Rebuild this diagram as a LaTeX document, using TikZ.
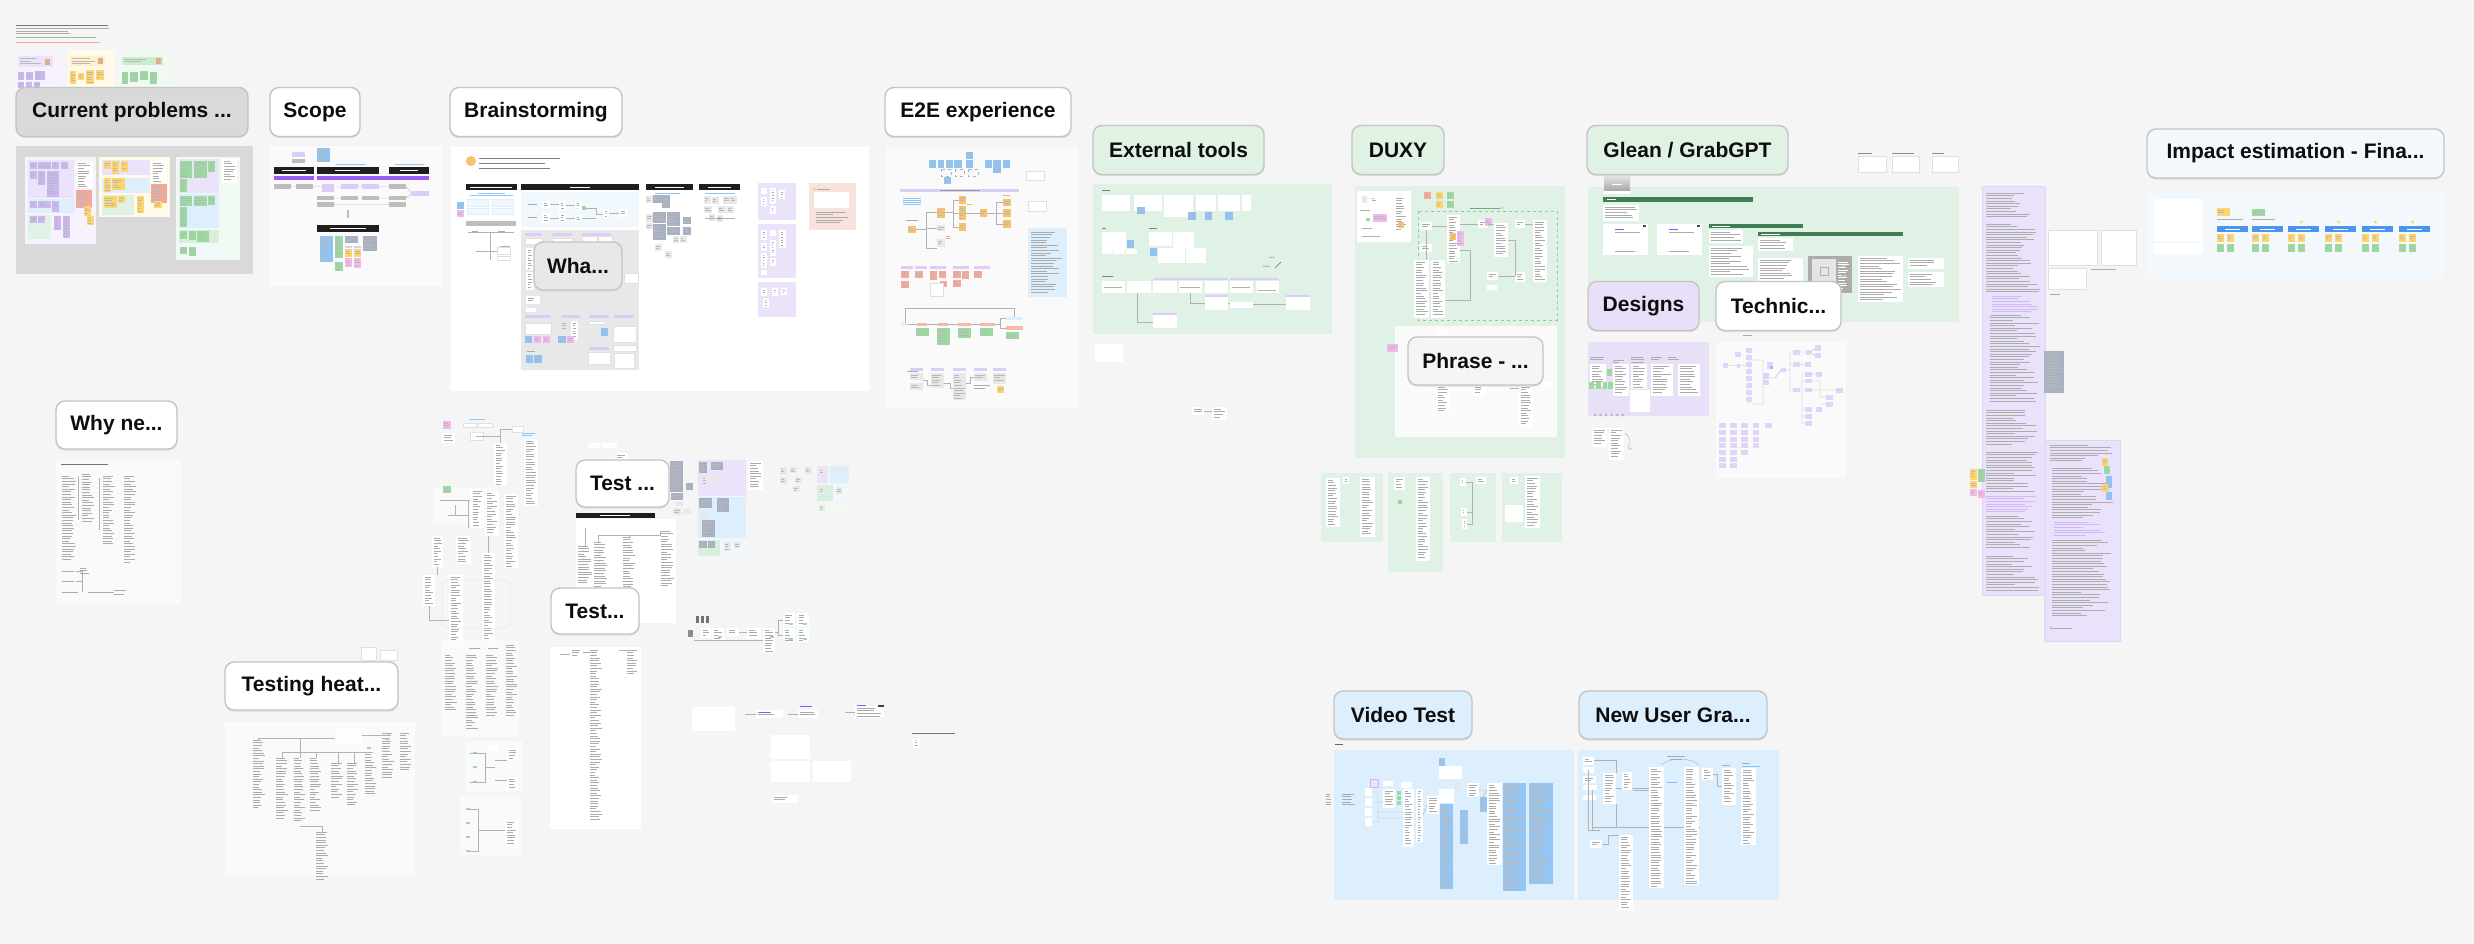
\documentclass[tikz,border=0pt]{standalone}
\usepackage{fontspec}
\setmainfont{Noto Sans}
\newfontfamily\lblfont{Liberation Sans}
\definecolor{bg}{HTML}{F5F5F5}
\definecolor{cpg}{HTML}{D9D9D9}
\definecolor{fw}{HTML}{FAFAFA}
\definecolor{lav}{HTML}{EBE3FA}
\definecolor{lavl}{HTML}{F6F3FE}
\definecolor{lavs}{HTML}{C9B6F2}
\definecolor{lavc}{HTML}{DCCDF8}
\definecolor{yel}{HTML}{FFD56B}
\definecolor{yell}{HTML}{FFFAEA}
\definecolor{grn}{HTML}{9BDA9E}
\definecolor{grnl}{HTML}{F0FAF2}
\definecolor{grnp}{HTML}{D8EFDD}
\definecolor{frg}{HTML}{E0F2E6}
\definecolor{sal}{HTML}{F3A89A}
\definecolor{blu}{HTML}{8EC3F5}
\definecolor{blul}{HTML}{DDEEFC}
\definecolor{blup}{HTML}{F0F7FD}
\definecolor{gbl}{HTML}{A7B1C3}
\definecolor{org}{HTML}{F8C26C}
\definecolor{dgr}{HTML}{3F7D52}
\definecolor{pch}{HTML}{F8E3DC}
\definecolor{blk}{HTML}{1E1E1E}
\definecolor{pur}{HTML}{9B5DF3}
\definecolor{gry}{HTML}{BDBDBD}
\definecolor{grl}{HTML}{E8E8E8}
\definecolor{lblb}{HTML}{C4C4C4}
\definecolor{imp}{HTML}{F3F8FC}
\definecolor{bbar}{HTML}{4C95EE}
\definecolor{pnk}{HTML}{F2B8EE}
\definecolor{vblue}{HTML}{92C6F6}
\definecolor{doclav}{HTML}{EAE2FA}
\definecolor{lblg}{HTML}{DFF2E4}
\definecolor{lblp}{HTML}{E8E0F8}
\definecolor{tech}{HTML}{E0D4F8}

\newcommand\myfill[5]{\fill[#1] (#2,#3) rectangle (#4,#5);}
\newcommand\mylines[5]{%
  \pgfmathsetmacro\la{#2}\pgfmathsetmacro\lb{#3}\pgfmathsetmacro\lc{#4}\pgfmathsetmacro\ld{#5}%
  \pgfmathsetmacro\lbb{\lb+2.6}%
  \ifdim\lbb pt>\ld pt\relax\else
    \foreach \yy in {\lb,\lbb,...,\ld}{\pgfmathsetmacro\xe{\la+(\lc-\la)*(0.45+0.55*rnd)}\draw[#1] (\la,\yy) -- (\xe,\yy);}%
  \fi}
\newcommand\mydoc[4]{\fill[white] (#1,#2) rectangle (#3,#4); \mylines{txl}{#1+1.5}{#2+2}{#3-1.5}{#4-1.5}}
\newcommand\mystk[5]{\fill[#1] (#2,#3) rectangle (#4,#5); \mylines{stl}{#2+1}{#3+1.8}{#4-1}{#5-1.5}}
\newcommand\mybox[4]{\filldraw[fill=white,draw=black!12,line width=0.4pt] (#1,#2) rectangle (#3,#4);}

\begin{document}
\begin{tikzpicture}[x=1pt,y=-1pt,
  txl/.style={line width=0.45pt, black!33},
  pdl/.style={line width=0.4pt, black!32},
  stl/.style={line width=0.4pt, black!28},
  cn/.style={line width=0.4pt, black!30},
  lbl/.style={draw=lblb, line width=1.4pt, rounded corners=9pt, inner sep=0pt, minimum height=49pt,
    font=\lblfont\bfseries\fontsize{21}{25}\selectfont, text=black!95,
    preaction={fill=black!13, transform canvas={yshift=-1.6pt}}}]
\useasboundingbox (0,0) rectangle (2474,944);
\fill[bg] (0,0) rectangle (2474,944);
\pgfmathsetseed{7}

% ================= top-left notes
\draw[line width=0.8pt,black!55] (16,25)--(108,25);
\mylines{txl}{16}{28.5}{116}{34}
\draw[txl] (16,37.5)--(96,37.5);
\draw[line width=0.6pt,sal] (16,42)--(100,42);
\myfill{lavl}{16}{50}{63}{138}
\myfill{yell}{68}{50}{115}{138}
\myfill{grnl}{120}{50}{173}{138}
\myfill{lav}{18}{56}{53}{67}
\myfill{brown!60}{45}{59}{50}{65}
\mylines{stl}{20}{58.5}{42}{65}
\myfill{yel!35}{70}{56}{105}{66}
\myfill{brown!60}{98}{58}{103}{64}
\mylines{stl}{72}{58.5}{95}{64}
\myfill{grn!50}{122}{57}{163}{65}
\myfill{brown!60}{156}{58}{161}{64}
\mylines{stl}{124}{59}{150}{64}
\mystk{lavs}{18}{72}{24}{80}\mystk{lavs}{26}{72}{33}{80}\mystk{lavs}{35}{71}{45}{80}
\mystk{lavs}{18}{82}{24}{88}\mystk{lavs}{26}{82}{32}{88}\mystk{lavs}{34}{82}{40}{88}
\mystk{yel}{70}{71}{76}{84}\mystk{yel}{78}{73}{84}{80}\mystk{yel}{86}{70}{94}{84}\mystk{yel}{96}{70}{104}{80}
\mystk{grn}{122}{72}{128}{84}\mystk{grn}{130}{72}{138}{82}\mystk{grn}{140}{71}{148}{80}\mystk{grn}{150}{72}{157}{84}

% ================= Current problems frame
\myfill{cpg}{16}{146}{253}{274}
\myfill{lavl}{25}{157}{96}{244}
\myfill{lav}{28}{160}{74}{198}
\myfill{blul}{28}{199}{75}{213}
\myfill{lblg}{28}{215}{51}{239}
\mystk{lavs}{30}{162}{37}{169}\mystk{lavs}{38}{162}{51}{169}\mystk{lavs}{52}{162}{59}{169}\mystk{lavs}{61}{162}{68}{169}
\mystk{lavs}{30}{171}{37}{179}\mystk{lavs}{38}{171}{45}{185}\mystk{lavs}{47}{171}{59}{197}
\mystk{lavs}{30}{201}{37}{208}\mystk{lavs}{38}{201}{51}{208}\mystk{lavs}{52}{201}{59}{212}
\mystk{lavs}{30}{216}{37}{223}\mystk{lavs}{38}{216}{45}{223}\mystk{lavs}{54}{216}{61}{230}\mystk{lavs}{63}{216}{70}{238}
\mydoc{76}{161}{93}{188}
\mystk{sal}{76}{190}{92}{208}
\mystk{yel}{84}{206}{91}{216}\mystk{yel}{87}{216}{94}{225}
\myfill{yell}{99}{157}{170}{217}
\myfill{lav}{102}{160}{150}{175}
\myfill{blul}{102}{178}{150}{193}
\myfill{lblg}{102}{195}{134}{215}
\mystk{yel}{104}{161}{111}{169}\mystk{yel}{112}{161}{119}{174}\mystk{yel}{121}{161}{128}{172}
\mystk{yel}{104}{178}{111}{192}\mystk{yel}{112}{178}{125}{190}
\mystk{yel}{104}{196}{117}{208}\mystk{yel}{118}{196}{125}{203}\mystk{yel}{137}{196}{144}{213}
\mydoc{151}{161}{167}{183}
\mystk{sal}{151}{184}{167}{203}
\mystk{yel}{154}{201}{162}{208}
\myfill{grnl}{176}{157}{240}{260}
\myfill{lav}{179}{159}{219}{193}
\myfill{blul}{179}{194}{219}{228}
\myfill{grnp}{179}{230}{219}{243}
\myfill{blup}{179}{245}{219}{258}
\mystk{grn}{180}{161}{192}{178}\mystk{grn}{194}{161}{207}{178}\mystk{grn}{208}{161}{215}{172}
\mystk{grn}{180}{179}{187}{192}
\mystk{grn}{180}{196}{192}{206}\mystk{grn}{194}{196}{207}{206}\mystk{grn}{208}{196}{215}{205}
\mystk{grn}{180}{207}{187}{227}
\mystk{grn}{180}{231}{187}{239}\mystk{grn}{189}{231}{196}{240}\mystk{grn}{197}{231}{209}{242}
\mystk{grn}{180}{247}{187}{254}\mystk{grn}{189}{247}{196}{256}
\mydoc{222}{159}{237}{183}

% ================= Scope frame
\myfill{fw}{270}{146}{442}{286}
\mystk{blu}{317}{148}{330}{162}
\myfill{lavc}{292}{152}{305}{157}
\myfill{gry}{292}{159}{305}{163}
\draw[line width=0.5pt,blu] (336,164)--(366,164) (395,164)--(424,164);
\myfill{blk}{274}{167}{314}{174}\myfill{blk}{317}{167}{379}{174}\myfill{blk}{389}{167}{429}{174}
\draw[line width=0.5pt,white] (282,170.5)--(306,170.5) (335,170.5)--(360,170.5) (400,170.5)--(418,170.5);
\myfill{pur}{274}{176}{314}{180}\myfill{pur}{317}{176}{429}{180}
\myfill{gry}{274}{184}{291}{189}\myfill{gry}{296}{184}{313}{189}
\myfill{lavc}{322}{184}{334}{192}\myfill{lavc}{341}{184}{358}{189}\myfill{lavc}{362}{184}{379}{189}
\myfill{gry}{389}{184}{406}{189}
\myfill{gry}{317}{196}{334}{200}\myfill{gry}{341}{196}{358}{200}\myfill{gry}{362}{196}{379}{200}\myfill{gry}{389}{196}{406}{200}
\myfill{gry}{317}{202}{334}{207}\myfill{gry}{389}{202}{406}{207}
\myfill{lavc}{412}{191}{429}{196}
\draw[cn] (291,186.5)--(296,186.5) (313,186.5)--(322,186.5) (334,187)--(341,187) (358,186.5)--(362,186.5) (379,186.5)--(389,186.5) (406,186.5)--(412,193.5) (406,198)--(412,193.5)
  (334,198)--(341,198) (358,198)--(362,198) (379,198)--(389,198) (334,204.5)--(389,204.5);
\draw[line width=1.2pt,gry] (348,210)--(348,218);
\myfill{blk}{317}{225}{379}{232}
\draw[line width=0.5pt,white] (330,228.5)--(366,228.5);
\mystk{blu}{320}{236}{333}{262}
\mystk{grn}{335}{236}{343}{258}\mystk{grn}{335}{262}{343}{271}
\mystk{gbl}{345}{236}{358}{243}
\myfill{lavc}{345}{246}{352}{248}\myfill{lavc}{354}{246}{361}{248}
\mystk{yel}{345}{249}{352}{257}\mystk{yel}{354}{249}{361}{257}
\mystk{pnk}{345}{258}{352}{267}\mystk{pnk}{354}{258}{361}{268}
\mystk{gbl}{363}{236}{377}{251}

% ================= Brainstorming frame
\myfill{white}{451}{147}{869}{391}
\fill[org] (471,161) circle (5);
\draw[line width=0.7pt,black!50] (479,158)--(560,158) (479,163)--(545,163) (479,168)--(550,168);
\myfill{blk}{466}{184}{517}{190}\myfill{blk}{521}{184}{639}{190}\myfill{blk}{646}{184}{693}{190}\myfill{blk}{699}{184}{740}{190}
\draw[line width=0.5pt,white] (470,187)--(512,187) (570,187)--(590,187) (655,187)--(684,187) (708,187)--(731,187);
\draw[line width=0.5pt,blu] (478,193)--(505,193) (470,195)--(513,195) (655,193)--(680,193) (705,193)--(735,193);
\filldraw[fill=blup,draw=blul] (467,199) rectangle (488,206); \filldraw[fill=blup,draw=blul] (492,199) rectangle (513,206);
\filldraw[fill=blup,draw=blul] (467,208) rectangle (488,214); \filldraw[fill=blup,draw=blul] (492,208) rectangle (513,214);
\mystk{blu}{457}{202}{464}{209}\mystk{pnk}{457}{210}{464}{217}
\myfill{gry}{466}{221}{516}{226}
\draw[cn] (468,232)--(514,232) (490,232)--(490,260) (478,251)--(500,251) (500,246)--(510,246);
\mybox{497}{247}{510}{254}\mybox{497}{256}{510}{260}
\draw[txl] (472,231)--(478,231) (498,231)--(505,231) (476,251)--(482,251);
\myfill{blup}{521}{192}{639}{227}
\mydoc{542}{201}{550}{208}\mydoc{559}{201}{566}{211}\mydoc{575}{201}{582}{210}\myfill{grn}{582}{206}{586}{210}
\mydoc{542}{213}{550}{223}\mydoc{559}{213}{566}{222}\mydoc{575}{215}{582}{222}
\mydoc{603}{209}{609}{218}\mydoc{619}{209}{627}{217}
\draw[cn] (550,204)--(559,204) (566,205)--(575,205) (586,208)--(596,208)--(596,214)--(603,214) (550,218)--(559,218) (566,218)--(575,218) (582,218)--(596,218) (609,213)--(619,213);
\draw[txl] (528,204)--(537,204) (528,217)--(537,217);
\myfill{grl}{521}{230}{639}{370}
\myfill{lavc}{525}{233}{542}{236}\myfill{lavc}{552}{233}{572}{236}\myfill{lavc}{582}{233}{611}{236}
\mybox{525}{238}{542}{244}\mybox{552}{238}{572}{244}\mybox{582}{236}{597}{244}\mybox{598}{236}{612}{244}
\mydoc{526}{248}{534}{270}\mydoc{526}{272}{534}{290}\mydoc{526}{296}{540}{304}\mydoc{526}{308}{536}{312}
\mybox{624}{273}{638}{283}
\myfill{lavc}{525}{315}{551}{318}\myfill{lavc}{561}{315}{580}{318}\myfill{lavc}{589}{315}{609}{318}\myfill{lavc}{614}{315}{634}{318}
\mybox{525}{323}{551}{334}
\mystk{blu}{525}{336}{532}{343}\mystk{pnk}{534}{336}{541}{343}\mystk{pnk}{543}{336}{550}{343}
\mystk{gry!40}{561}{321}{570}{330}\mydoc{571}{321}{578}{340}
\mystk{blu}{558}{336}{566}{343}\mystk{pnk}{567}{336}{574}{343}
\mybox{589}{321}{605}{324}
\mystk{blu}{601}{328}{608}{336}
\mybox{613}{326}{636}{342}\mybox{613}{345}{636}{351}
\myfill{lavc}{589}{347}{609}{350}
\mybox{588}{352}{610}{364}\mybox{614}{353}{634}{368}
\mystk{blu}{526}{355}{533}{363}\mystk{blu}{534}{355}{542}{363}
\draw[txl] (527,351)--(535,351);
% gray-blue clusters
\mystk{grl}{646}{196}{653}{203}\mystk{grl}{646}{214}{653}{222}\mystk{grl}{646}{223}{653}{229}
\mystk{gbl}{653}{195}{662}{203}\mystk{gbl}{662}{195}{670}{208}
\mystk{gbl}{653}{212}{666}{223}\mystk{gbl}{667}{212}{680}{226}
\mystk{gbl}{653}{224}{666}{240}\mystk{gbl}{667}{227}{680}{235}
\mystk{gbl}{683}{217}{691}{224}\mystk{gbl}{683}{227}{691}{235}
\mystk{grl}{673}{236}{679}{243}\mystk{grl}{680}{236}{687}{243}
\mystk{grl}{655}{244}{662}{251}\mystk{grl}{665}{251}{672}{258}
\mystk{grl}{704}{196}{711}{204}\mystk{grl}{712}{197}{719}{204}\mystk{grl}{723}{196}{730}{204}\mystk{grl}{730}{196}{737}{204}
\mystk{grl}{704}{206}{712}{213}\mystk{grl}{718}{206}{726}{213}\mystk{grl}{727}{206}{734}{213}\mystk{grl}{709}{214}{715}{221}\mystk{grl}{717}{215}{723}{222}
\draw[cn] (705,218)--(735,218);
% lavender columns
\myfill{lav}{758}{183}{796}{220}\myfill{lav}{758}{224}{796}{278}\myfill{lav}{758}{282}{796}{317}
\mydoc{761}{188}{767}{194}\mydoc{770}{188}{776}{204}\mydoc{779}{190}{785}{199}\mydoc{761}{197}{767}{206}\mydoc{770}{206}{776}{214}
\mydoc{761}{230}{767}{240}\mydoc{770}{230}{776}{236}\mydoc{779}{230}{786}{248}\mydoc{761}{243}{767}{251}\mydoc{770}{240}{776}{256}\mydoc{761}{253}{767}{268}\mydoc{770}{258}{776}{266}\mydoc{761}{270}{767}{275}
\mydoc{761}{288}{767}{296}\mydoc{772}{288}{778}{296}\mydoc{781}{288}{787}{295}\mydoc{763}{298}{769}{307}
\myfill{pch}{809}{183}{856}{230}
\myfill{white}{814}{192}{849}{208}
\fill[yel] (813,188) rectangle (816,190);
\draw[txl] (817,189)--(830,189);
\mylines{txl}{816}{212}{850}{225}

% ================= E2E frame
\myfill{fw}{886}{147}{1078}{407}
\mystk{blu}{966}{152}{973}{159}
\mystk{blu}{929}{160}{936}{168}\mystk{blu}{938}{160}{944}{168}\mystk{blu}{946}{160}{953}{168}\mystk{blu}{954}{160}{962}{168}
\mystk{blu}{966}{160}{973}{168}\mystk{blu}{985}{160}{992}{168}\mystk{blu}{993}{160}{1001}{173}\mystk{blu}{1003}{160}{1010}{168}
\draw[cn,dashed] (941,169) rectangle (951,176) (955,169) rectangle (964,176) (968,169) rectangle (978,176);
\mystk{blu}{944}{177}{951}{184}
\mybox{1026}{171}{1044}{180}
\myfill{lavc}{900}{189}{1019}{192}
\draw[line width=0.4pt,black!40] (940,190.5)--(980,190.5);
\foreach \yy in {198,200,202,204}{\draw[line width=0.4pt,blu] (903,\yy)--(921,\yy);}
\mybox{1028}{201}{1046}{211}
\draw[txl] (906,220)--(918,220);
\mystk{org}{908}{226}{916}{233}
\mystk{org}{937}{208}{945}{218}\mystk{grl}{937}{225}{945}{231}\mystk{grl}{937}{239}{945}{247}
\mystk{org}{959}{196}{966}{204}\mystk{org}{959}{206}{966}{220}\mystk{org}{959}{223}{966}{231}
\mystk{org}{980}{209}{987}{217}
\mystk{org}{1003}{199}{1011}{206}\mystk{org}{1003}{209}{1011}{217}\mystk{org}{1003}{220}{1011}{228}
\draw[cn] (916,229)--(926,229) (926,212)--(926,248) (926,212)--(937,212) (926,228)--(937,228) (926,248)--(937,248)
  (945,212)--(953,212) (953,200)--(953,227) (953,200)--(959,200) (953,213)--(959,213) (953,227)--(959,227)
  (966,213)--(980,213) (987,213)--(996,213) (996,202)--(996,224) (996,202)--(1003,202) (996,213)--(1003,213) (996,224)--(1003,224);
\draw[line width=0.4pt,sal] (1003,195)--(1010,195) (967,204)--(972,204) (946,236)--(950,236) (946,238)--(951,238);
\myfill{blul}{1028}{228}{1067}{297}
\mylines{txl}{1031}{232}{1063}{294}
\myfill{lavc}{901}{266}{913}{269}\myfill{lavc}{915}{266}{927}{269}\myfill{lavc}{930}{266}{946}{269}\myfill{lavc}{953}{266}{969}{269}\myfill{lavc}{974}{266}{990}{269}
\mystk{sal}{901}{271}{909}{278}\mystk{sal}{915}{271}{923}{278}\mystk{sal}{930}{271}{937}{280}\mystk{sal}{939}{271}{946}{278}
\mystk{sal}{953}{271}{961}{278}\mystk{sal}{962}{271}{969}{279}\mystk{sal}{974}{271}{982}{278}
\mystk{sal}{901}{281}{909}{288}\mystk{sal}{940}{281}{947}{287}\mystk{sal}{953}{280}{961}{287}
\mybox{930}{283}{943}{296}
\draw[cn] (905,325)--(905,308)--(1014,308)--(1014,318) (908,324.5)--(917,324.5) (927,324.5)--(938,324.5) (948,324.5)--(958,324.5) (971,324.5)--(980,324.5) (995,324.5)--(1000,324.5)--(1000,318.5)--(1006,318.5) (1000,324.5)--(1000,328)--(1006,328);
\myfill{blul}{901}{323}{908}{326}\myfill{sal!80}{917}{323}{927}{326}\myfill{sal!80}{938}{323}{948}{326}\myfill{sal!80}{958}{323}{971}{326}\myfill{sal!80}{980}{323}{995}{326}
\myfill{blul}{1006}{317}{1023}{320}\myfill{sal!80}{1006}{326}{1023}{330}
\mystk{grn}{916}{328}{929}{336}\mystk{grn}{937}{328}{950}{345}\mystk{grn}{958}{328}{971}{338}\mystk{grn}{980}{328}{993}{336}\mystk{grn}{1006}{332}{1019}{339}
\draw[txl] (907,371)--(918,371);
\myfill{lavc}{910}{368}{923}{371}\myfill{lavc}{931}{368}{944}{371}\myfill{lavc}{953}{368}{966}{371}\myfill{lavc}{974}{368}{987}{371}\myfill{lavc}{993}{368}{1006}{371}
\mystk{grl}{910}{373}{923}{380}\mystk{grl}{910}{383}{923}{390}\mystk{grl}{931}{373}{944}{388}\mystk{grl}{953}{373}{966}{400}\mystk{grl}{974}{373}{987}{381}\mystk{grl}{993}{373}{1006}{384}
\draw[txl] (974,385)--(990,385) (974,388)--(985,388);
\mystk{yel}{997}{386}{1004}{393}
\draw[cn] (923,380)--(927,380)--(927,385)--(931,385) (944,383)--(950,383)--(950,388)--(953,388) (966,383)--(970,383)--(970,377)--(974,377);

% ================= External tools frame
\myfill{frg}{1093}{184}{1332}{334}
\draw[line width=0.5pt,black!50] (1102,190)--(1110,190) (1102,228)--(1106,228) (1149,228)--(1157,228) (1102,276)--(1113,276);
\myfill{white}{1102}{195}{1130}{211}\myfill{white}{1134}{195}{1162}{211}\myfill{white}{1164}{195}{1193}{217}
\myfill{white}{1196}{195}{1216}{211}\myfill{white}{1218}{195}{1240}{211}\myfill{white}{1242}{195}{1251}{211}
\mystk{blu}{1137}{207}{1145}{214}\mystk{blu}{1188}{212}{1196}{220}\mystk{blu}{1205}{212}{1212}{220}\mystk{blu}{1225}{212}{1233}{220}
\myfill{white}{1102}{232}{1126}{249}\myfill{white}{1149}{232}{1172}{246}\myfill{white}{1173}{232}{1194}{248}
\myfill{white}{1102}{249}{1113}{254}\myfill{white}{1114}{249}{1125}{254}\myfill{white}{1126}{249}{1137}{254}
\myfill{white}{1158}{248}{1185}{263}\myfill{white}{1186}{248}{1206}{263}
\mystk{blu}{1127}{240}{1134}{248}\mystk{blu}{1150}{248}{1157}{256}
\draw[line width=0.5pt,black!60] (1269,257)--(1274,257) (1263,266)--(1270,266) (1275,268)--(1281,262);
\myfill{lavc}{1153}{278}{1228}{280}\myfill{lavc}{1230}{278}{1279}{280}
\foreach \xa/\xb in {1102/1125,1127/1151,1153/1177,1179/1202,1205/1228,1230/1253,1256/1279}{\myfill{white}{\xa}{281}{\xb}{293}}
\draw[cn] (1104,287)--(1122,287) (1180,287)--(1200,287) (1232,287)--(1250,287) (1258,290)--(1276,290);
\myfill{white}{1205}{295}{1228}{310}\myfill{lavc}{1205}{295}{1228}{297}
\myfill{white}{1230}{302}{1253}{308}\myfill{blul}{1230}{310}{1253}{312}
\myfill{white}{1286}{295}{1310}{310}\myfill{lavc}{1286}{295}{1310}{297}
\myfill{white}{1153}{313}{1177}{328}\myfill{lavc}{1153}{313}{1177}{315}
\draw[cn] (1137,293)--(1137,322)--(1153,322) (1190,293)--(1190,303)--(1205,303) (1228,303)--(1230,303) (1253,304)--(1286,304);
\myfill{white}{1095}{344}{1123}{362}
\mydoc{1192}{407}{1204}{415}\mydoc{1212}{407}{1227}{420}
\draw[cn] (1204,411)--(1212,411);

% ================= DUXY frame
\myfill{frg}{1355}{186}{1565}{458}
\myfill{white}{1357}{191}{1411}{242}
\mydoc{1361}{195}{1367}{204}\mydoc{1370}{196}{1378}{203}\myfill{grl}{1362}{196}{1367}{203}
\mystk{pnk}{1373}{214}{1387}{222}
\myfill{grn}{1366}{218}{1370}{221}
\mydoc{1394}{196}{1408}{232}
\mystk{org}{1398}{222}{1404}{228}
\draw[cn] (1360,210)--(1370,210) (1362,228)--(1372,228) (1362,236)--(1380,236);
\mystk{sal}{1424}{192}{1431}{199}\mystk{yel}{1436}{192}{1443}{199}\mystk{grn}{1447}{192}{1454}{199}
\mystk{yel}{1436}{201}{1443}{208}\mystk{grn}{1447}{201}{1454}{208}
\draw[line width=0.5pt,dgr!70] (1470,208)--(1500,208);
\fill[org] (1501,207) rectangle (1503,209);
\draw[dashed,green!45!black!40,line width=0.5pt] (1418,211) rectangle (1557,320);
\mydoc{1414}{260}{1429}{318}\mydoc{1431}{260}{1445}{318}
\mydoc{1447}{215}{1460}{263}\mydoc{1494}{223}{1508}{257}\mydoc{1533}{220}{1547}{282}
\mydoc{1420}{222}{1432}{230}\mydoc{1420}{244}{1432}{252}\mydoc{1478}{220}{1488}{228}
\mydoc{1487}{272}{1498}{280}\mydoc{1487}{285}{1497}{290}\mydoc{1515}{220}{1525}{228}\mydoc{1515}{272}{1525}{282}
\mystk{pnk}{1457}{231}{1464}{246}\mystk{org}{1450}{233}{1456}{240}\mystk{pnk}{1485}{218}{1492}{226}
\draw[cn] (1432,226)--(1447,226) (1426,230)--(1426,260) (1460,224)--(1478,224) (1488,224)--(1494,224) (1508,240)--(1515,240)--(1515,276)
  (1525,224)--(1533,224) (1498,276)--(1515,276) (1460,250)--(1470,250)--(1470,300)--(1445,300);
\myfill{fw}{1395}{326}{1557}{437}
\mydoc{1436}{329}{1447}{335}
\mystk{pnk}{1387}{344}{1398}{352}
\mydoc{1436}{385}{1449}{413}\mydoc{1473}{385}{1486}{396}\mydoc{1519}{385}{1533}{427}\mydoc{1543}{382}{1551}{388}
\draw[cn] (1442,385)--(1442,380) (1510,388)--(1519,388);
% small green frames under DUXY
\myfill{frg}{1321}{473}{1383}{542}\myfill{frg}{1388}{473}{1443}{572}\myfill{frg}{1450}{473}{1496}{542}\myfill{frg}{1502}{473}{1562}{542}
\mydoc{1326}{478}{1340}{527}\mydoc{1343}{477}{1349}{484}\mydoc{1360}{477}{1375}{537}
\mydoc{1394}{477}{1405}{490}\mydoc{1416}{477}{1430}{561}\myfill{grn}{1398}{500}{1402}{504}
\mydoc{1460}{478}{1466}{486}\mydoc{1461}{508}{1467}{516}\mydoc{1462}{519}{1467}{529}\mydoc{1476}{477}{1486}{484}
\draw[cn] (1466,482)--(1472,482)--(1472,524)--(1467,524) (1472,512)--(1467,512);
\mydoc{1510}{477}{1518}{484}\myfill{white}{1505}{505}{1523}{522}\mydoc{1525}{476}{1540}{528}

% ================= Glean frame
\myfill{frg}{1588}{187}{1959}{322}
\shade[top color=gray!25,bottom color=gray!70] (1604,177) rectangle (1630,191);
\myfill{white}{1604}{191}{1630}{194}
\draw[line width=0.5pt,white] (1612,184)--(1622,184);
\myfill{dgr}{1603}{197}{1753}{202}\myfill{dgr}{1709}{224}{1803}{228}\myfill{dgr}{1758}{232}{1903}{236}
\draw[line width=0.5pt,white] (1607,199.5)--(1616,199.5) (1712,226)--(1730,226) (1761,234)--(1780,234);
\mydoc{1603}{205}{1639}{221}
\myfill{white}{1603}{224}{1648}{255}\myfill{white}{1657}{224}{1702}{255}
\draw[line width=0.6pt,blue!60] (1615,229)--(1624,229) (1669,229)--(1678,229);
\draw[txl] (1615,232)--(1640,232) (1669,232)--(1694,232) (1615,251)--(1635,251) (1669,251)--(1689,251);
\myfill{black!70}{1643}{225}{1646}{227}\myfill{black!70}{1697}{225}{1700}{227}
\mydoc{1709}{230}{1743}{243}\mydoc{1709}{246}{1753}{277}
\mydoc{1758}{238}{1793}{251}\mydoc{1758}{258}{1803}{283}
\myfill{gray!65}{1808}{256}{1852}{293}
\myfill{gray!20}{1812}{259}{1836}{284}
\draw[line width=0.6pt,gray!60] (1820,267) rectangle (1828,275);
\mylines{line width=0.4pt,white}{1838}{262}{1850}{290}
\myfill{grn}{1841}{265}{1845}{267}\myfill{grn}{1841}{275}{1845}{277}
\mydoc{1858}{256}{1903}{302}
\mydoc{1908}{258}{1944}{269}\mydoc{1908}{272}{1944}{287}
\mybox{1858}{156}{1886}{172}\mybox{1892}{156}{1919}{172}\mybox{1932}{156}{1958}{172}
\draw[line width=0.4pt,black!45] (1858,153)--(1872,153) (1892,153)--(1914,153) (1932,153)--(1944,153);

% ================= Designs frame
\myfill{lblp}{1588}{342}{1709}{416}
\mylines{txl}{1590}{357}{1606}{362}\mylines{txl}{1613}{360}{1625}{363}\mylines{txl}{1631}{357}{1647}{364}\mylines{txl}{1651}{357}{1667}{362}\mylines{txl}{1668}{357}{1680}{361}
\mydoc{1590}{364}{1606}{386}\mydoc{1613}{364}{1629}{396}\mydoc{1631}{364}{1647}{389}\mydoc{1651}{364}{1673}{396}\mydoc{1678}{364}{1700}{396}
\myfill{white}{1630}{390}{1650}{412}
\myfill{grn}{1607}{369}{1612}{376}
\myfill{grn}{1589}{382}{1594}{389}\myfill{grn}{1596}{382}{1601}{389}\myfill{grn}{1603}{382}{1607}{389}\myfill{grn}{1608}{382}{1613}{389}
\foreach \x in {1595,1600.5,1606,1611.5,1617,1622.5}{\fill[gray!55] (\x,415) circle (1.5);}
\mydoc{1592}{428}{1607}{447}\mydoc{1609}{428}{1624}{460}
\draw[cn] (1625,433) .. controls (1630,436) and (1631,444) .. (1628,448);
\myfill{grn!60}{1628}{448}{1632}{450}

% ================= Technical frame
\myfill{fw}{1716}{342}{1846}{478}
\draw[cn] (1749,350)--(1749,404) (1728,365.5)--(1746,365.5) (1752,360)--(1763,360)--(1763,404)--(1752,404) (1769,378)--(1775,378)--(1781,370)
  (1786,370)--(1790,370) (1790,352)--(1790,393) (1790,352)--(1793,352) (1790,364.5)--(1793,364.5) (1790,390)--(1793,390)
  (1800,352)--(1806,352) (1810,352)--(1815,349) (1810,352)--(1815,356) (1800,364.5)--(1805,364.5)
  (1800,390)--(1802,390) (1802,374)--(1802,424) (1802,374)--(1805,374) (1802,381)--(1805,381) (1802,409)--(1805,409) (1802,416)--(1805,416) (1802,423)--(1805,423)
  (1812,374)--(1816,374) (1812,381)--(1820,381)--(1820,397)--(1826,397) (1820,404)--(1826,404) (1812,390)--(1836,390);
\foreach \yy in {348,355,...,402}{\myfill{tech}{1746}{\yy}{1752}{\yy+5}}
\myfill{tech}{1723}{363}{1728}{368}\myfill{tech}{1735}{352}{1741}{357}\myfill{tech}{1737}{364}{1740}{368}
\myfill{tech}{1763}{373}{1769}{379}\myfill{tech}{1763}{380}{1769}{385}\myfill{tech}{1767}{362}{1773}{369}\myfill{blu}{1770}{366}{1773}{369}
\myfill{tech}{1781}{368}{1786}{372}
\myfill{tech}{1793}{350}{1800}{355}\myfill{tech}{1806}{350}{1810}{355}\myfill{tech}{1815}{345}{1821}{351}\myfill{tech}{1815}{353}{1821}{358}
\myfill{tech}{1793}{362}{1800}{367}\myfill{tech}{1805}{362}{1811}{367}\myfill{tech}{1793}{388}{1800}{392}
\myfill{tech}{1805}{372}{1812}{377}\myfill{tech}{1805}{379}{1812}{383}\myfill{tech}{1805}{388}{1812}{392}\myfill{tech}{1816}{372}{1822}{377}
\myfill{tech}{1826}{395}{1833}{400}\myfill{tech}{1826}{402}{1833}{407}\myfill{tech}{1836}{388}{1843}{393}
\myfill{tech}{1805}{407}{1812}{412}\myfill{tech}{1816}{407}{1822}{412}\myfill{tech}{1805}{414}{1812}{419}\myfill{tech}{1805}{421}{1812}{426}
\foreach \yy in {423,430,437,443,450,457,463}{\myfill{tech}{1719}{\yy}{1726}{\yy+5}\myfill{tech}{1730}{\yy}{1737}{\yy+5}}
\foreach \yy in {423,430,437,443,450}{\myfill{tech}{1741}{\yy}{1748}{\yy+5}}
\foreach \yy in {423,430,437,443}{\myfill{tech}{1753}{\yy}{1759}{\yy+5}}
\myfill{tech}{1765}{423}{1772}{428}
\draw[txl] (1743,335)--(1752,335);

% ================= long purple docs
\mybox{2048}{230}{2097}{265}\mybox{2101}{230}{2136}{265}\mybox{2048}{268}{2086}{289}
\draw[txl] (2091,269)--(2116,269) (2050,294)--(2060,294);
\filldraw[fill=doclav,draw=lavs!60,line width=0.5pt] (1982,186) rectangle (2045,595);
\filldraw[fill=doclav,draw=lavs!60,line width=0.5pt] (2044,440) rectangle (2120,641);
\mylines{pdl}{1986}{193}{2030}{218}
\mylines{pdl}{1986}{224}{2040}{292}
\mylines{line width=0.4pt,pur!45}{1992}{296}{2040}{312}
\mylines{pdl}{1990}{315}{2040}{402}
\mylines{pdl}{1986}{410}{2040}{446}
\mylines{pdl}{1986}{452}{2040}{492}
\mylines{line width=0.4pt,pur!45}{1986}{496}{2040}{512}
\mylines{pdl}{1986}{516}{2040}{548}
\mylines{pdl}{1986}{556}{2040}{590}
\mylines{pdl}{2050}{445}{2115}{462}
\mylines{pdl}{2052}{468}{2115}{520}
\mylines{line width=0.4pt,pur!45}{2054}{522}{2115}{536}
\mylines{pdl}{2052}{540}{2115}{618}
\draw[pdl] (2050,628)--(2072,628);
\myfill{grn}{2050}{627}{2052}{629}
\mystk{gbl}{2044}{351}{2064}{393}
\mystk{yel}{1970}{469}{1977}{480}\mystk{grn}{1978}{469}{1985}{482}\mystk{yel}{1970}{481}{1977}{488}\mystk{pnk}{1970}{489}{1977}{496}\mystk{pnk}{1978}{490}{1985}{498}
\mystk{yel}{2102}{458}{2108}{466}\mystk{grn}{2104}{466}{2110}{474}\mystk{blu}{2106}{476}{2112}{488}\mystk{yel}{2102}{484}{2108}{492}\mystk{blu}{2106}{492}{2112}{500}

% ================= Impact frame
\myfill{imp}{2147}{189}{2444}{279}
\myfill{white}{2154}{199}{2203}{241}\myfill{white}{2154}{243}{2203}{254}
\mystk{yel}{2217}{208}{2230}{216}\mystk{grn}{2252}{209}{2265}{216}
\draw[txl] (2217,219)--(2243,219) (2252,219)--(2275,219);
\foreach \x in {2217,2252,2288,2325,2362,2399}{%
  \fill[bbar] (\x,226) rectangle (\x+31,232);
  \draw[white,line width=0.5pt] (\x+8,229)--(\x+23,229);
  \mystk{yel}{\x}{234}{\x+7}{242}\mystk{yel}{\x+10}{234}{\x+17}{242}
  \mystk{grn}{\x}{244}{\x+7}{252}\mystk{grn}{\x+10}{244}{\x+17}{252}}
\foreach \x in {2301.5,2338.5,2375.5,2412.5}{\fill[yel] (\x,222) circle (1.7);}

% ================= Why ne frame
\myfill{fw}{56}{461}{181}{605}
\draw[line width=0.6pt,black!55] (61,464)--(108,464);
\mylines{txl}{62}{476}{76}{560}\mylines{txl}{82}{474}{94}{522}\mylines{txl}{103}{476}{115}{545}\mylines{txl}{124}{476}{136}{562}
\draw[cn] (78,476)--(78,520) (99,478)--(99,530);
\draw[txl] (62,571)--(74,571) (62,581)--(74,581) (62,592)--(78,592) (88,592)--(110,592) (114,590)--(126,590) (114,594)--(124,594);
\draw[cn] (76,571)--(82,571)--(82,592) (76,581)--(82,581) (110,592)--(114,592);
\mylines{txl}{80}{568}{90}{574}

% ================= Testing heat frame
\mybox{361}{647}{376}{660}\mybox{380}{650}{397}{660}
\myfill{fw}{225}{722}{415}{875}
\myfill{white}{336}{729}{361}{743}
\draw[cn] (258,738)--(335,738) (258,738)--(258,740) (300,738)--(300,752) (282,752)--(370,752) (282,752)--(282,758) (300,752)--(300,758) (316,752)--(316,758) (338,752)--(338,763) (354,752)--(354,763) (362,735)--(388,735)--(388,733);
\mylines{txl}{253}{740}{265}{810}\mylines{txl}{276}{758}{288}{820}\mylines{txl}{294}{758}{305}{822}\mylines{txl}{310}{758}{321}{812}
\mylines{txl}{331}{763}{343}{797}\mylines{txl}{347}{763}{359}{805}\mylines{txl}{365}{752}{377}{795}\mylines{txl}{382}{733}{394}{778}\mylines{txl}{400}{733}{412}{772}
\myfill{grn}{367}{747}{371}{749}\myfill{grn}{385}{738}{389}{740}
\draw[cn] (300,826)--(322,826)--(322,832);
\mylines{txl}{316}{832}{328}{880}

% ================= middle scattered items
\mystk{pnk}{443}{421}{451}{429}
\mybox{463}{423}{476}{427}\mybox{478}{423}{492}{427}\mybox{470}{432}{483}{440}\mybox{512}{426}{523}{432}
\draw[line width=0.4pt,blu] (470,419)--(485,419) (522,433)--(535,433) (522,435)--(532,435);
\mydoc{442}{433}{455}{443}
\draw[cn] (476,436)--(500,436)--(500,443) (500,429)--(512,429) (500,436)--(500,429);
\mydoc{494}{443}{507}{486}\mydoc{524}{439}{538}{506}
\myfill{fw}{433}{487}{497}{523}
\mystk{grn}{443}{486}{451}{493}
\draw[cn] (440,500)--(470,500) (455,505)--(455,515) (448,515)--(468,515) (468,500)--(468,528);
\mydoc{471}{489}{484}{528}\mydoc{485}{491}{499}{536}\mydoc{504}{494}{518}{568}
\mydoc{432}{536}{443}{567}\mydoc{456}{536}{471}{564}\mydoc{482}{553}{495}{647}\mydoc{449}{575}{463}{660}\mydoc{423}{575}{435}{606}
\draw[line width=0.5pt,black!10,rounded corners=6pt] (442,580) rectangle (510,628);
\draw[cn] (437,567)--(437,575) (429,606)--(429,620)--(449,620) (488,536)--(488,553);
\myfill{fw}{442}{641}{519}{737}
\mylines{txl}{445}{655}{457}{710}\mylines{txl}{466}{655}{478}{730}\mylines{txl}{486}{655}{498}{715}\mylines{txl}{506}{645}{518}{716}
\draw[txl] (469,648)--(480,648) (488,648)--(498,648);
\myfill{fw}{466}{741}{523}{791}
\myfill{grn}{473}{752}{477}{754}\myfill{grn}{473}{766}{477}{768}\myfill{grn}{473}{781}{477}{783}
\draw[cn] (470,753)--(485,753)--(485,782)--(470,782) (485,767)--(495,767) (495,760)--(507,760) (495,780)--(507,780);
\mydoc{507}{748}{518}{760}\mydoc{507}{777}{518}{790}
\mydoc{488}{745}{498}{750}
\myfill{fw}{460}{797}{521}{855}
\myfill{grn}{466}{808}{470}{810}\myfill{grn}{466}{822}{470}{824}\myfill{grn}{466}{836}{470}{838}\myfill{grn}{466}{850}{470}{852}
\draw[cn] (470,809)--(478,809)--(478,851)--(470,851) (478,830)--(505,830);
\mydoc{505}{820}{518}{845}
% Test ... frame
\mydoc{588}{443}{600}{448}\mydoc{602}{443}{617}{448}\mydoc{615}{453}{628}{460}
\myfill{blk}{576}{513}{655}{518}
\draw[line width=0.4pt,white] (600,515.5)--(630,515.5);
\myfill{white}{576}{519}{676}{623}
\mydoc{578}{523}{593}{528}\mydoc{605}{528}{617}{533}\mydoc{640}{531}{653}{535}
\draw[cn] (585,528)--(585,546) (598,535)--(660,535)--(660,531) (598,535)--(598,542) (629,535)--(629,537);
\mylines{txl}{578}{546}{592}{583}\mylines{txl}{594}{542}{607}{587}\mylines{txl}{623}{537}{635}{588}\mylines{txl}{661}{531}{674}{586}
% gray-blue clusters right of Test ...
\mystk{gbl}{670}{461}{683}{492}\mystk{gbl}{686}{483}{693}{490}\mystk{gbl}{671}{493}{683}{500}
\mystk{grl}{673}{508}{681}{515}\mystk{grl}{683}{509}{691}{514}\mystk{grl}{676}{502}{683}{506}
\myfill{lav}{698}{460}{746}{496}
\myfill{blul}{698}{497}{746}{538}
\myfill{grnp}{698}{540}{720}{556}
\myfill{blup}{721}{540}{746}{556}
\mystk{gbl}{699}{462}{707}{473}\mystk{gbl}{711}{462}{723}{470}\mystk{grl}{702}{476}{708}{485}\mystk{grl}{713}{476}{719}{481}
\mystk{gbl}{699}{498}{712}{508}\mystk{gbl}{717}{498}{729}{512}\mystk{grl}{701}{513}{707}{518}\mystk{gbl}{702}{520}{715}{537}
\mystk{gbl}{699}{541}{707}{548}\mystk{gbl}{708}{541}{715}{548}\mystk{grl}{724}{542}{731}{551}\mystk{grl}{734}{542}{741}{548}
\mydoc{748}{461}{763}{490}
\mystk{grl}{780}{467}{787}{475}\mystk{grl}{790}{467}{797}{473}\mystk{grl}{780}{477}{787}{484}\mystk{grl}{795}{477}{802}{483}\mystk{grl}{805}{467}{812}{474}\mystk{grl}{793}{486}{800}{492}
\myfill{lav}{817}{466}{828}{483}\myfill{blul}{830}{466}{849}{483}
\myfill{grnp}{817}{485}{833}{501}\myfill{blup}{833}{485}{849}{501}
\myfill{grnl}{817}{504}{849}{513}
\mystk{grl}{819}{468}{825}{475}\mystk{grl}{832}{468}{838}{473}\mystk{grl}{840}{468}{846}{473}\mystk{grl}{819}{487}{825}{494}\mystk{grl}{836}{487}{842}{494}\mystk{grl}{819}{505}{825}{511}
% Test... frame
\myfill{white}{550}{647}{641}{829}
\mydoc{552}{652}{560}{657}\mydoc{570}{648}{583}{658}\mydoc{605}{648}{619}{653}
\draw[cn] (560,654)--(570,654) (583,652)--(590,652) (619,650)--(627,650);
\mylines{txl}{590}{650}{602}{820}\mylines{txl}{627}{650}{639}{676}
% cluster right
\foreach \x in {696,701,706}{\fill[black!55] (\x,616) rectangle (\x+2.5,623);}
\myfill{black!45}{688}{630}{693}{637}
\mydoc{701}{628}{711}{638}\mydoc{712}{628}{724}{640}\mydoc{727}{628}{739}{636}\mydoc{747}{628}{761}{639}\mydoc{763}{628}{775}{653}
\mydoc{783}{613}{795}{626}\mydoc{797}{613}{809}{626}\mydoc{783}{628}{795}{642}\mydoc{797}{628}{809}{642}
\myfill{grn}{789}{623}{793}{625}\myfill{grn}{803}{623}{807}{625}\myfill{grn}{789}{638}{793}{640}\myfill{grn}{803}{638}{807}{640}\myfill{grn}{718}{636}{722}{638}\myfill{grn}{770}{636}{774}{638}
\draw[cn] (694,640)--(763,640) (739,632)--(747,632) (775,632)--(778,632)--(778,620)--(783,620) (778,632)--(778,635)--(783,635);
% bottom-right scattered
\myfill{white}{692}{707}{735}{731}
\mydoc{756}{710}{783}{718}\mydoc{798}{710}{818}{718}\mydoc{855}{706}{884}{718}
\draw[line width=0.5pt,blue!60] (759,712)--(770,712) (800,706)--(812,706) (857,705)--(866,705);
\myfill{black!75}{878}{705}{884}{707}
\myfill{white}{771}{735}{810}{759}\myfill{white}{771}{761}{810}{782}\myfill{white}{813}{761}{851}{782}
\mydoc{772}{795}{798}{803}
\draw[line width=0.6pt,black!55] (912,733)--(955,733);
\mydoc{913}{738}{920}{748}
\draw[cn] (745,714)--(756,714) (788,714)--(798,714) (845,712)--(855,712);

% ================= Video Test frame
\draw[line width=0.6pt,black!60] (1335,744)--(1343,744);
\myfill{blul}{1334}{750}{1574}{900}
\mylines{txl}{1326}{794}{1334}{805}\mylines{txl}{1342}{794}{1356}{805}
\filldraw[fill=lav,draw=lavs] (1370,779) rectangle (1378,787);
\myfill{white}{1365}{788}{1372}{796}\myfill{white}{1365}{798}{1372}{806}\myfill{white}{1365}{808}{1372}{816}\myfill{white}{1365}{818}{1372}{826}
\mydoc{1383}{781}{1393}{786}\mydoc{1401}{782}{1412}{788}
\mydoc{1383}{789}{1395}{808}\mydoc{1403}{789}{1414}{847}\mydoc{1416}{789}{1423}{842}\mydoc{1427}{796}{1439}{814}
\myfill{grn}{1397}{791}{1401}{795}\myfill{grn}{1397}{796}{1401}{800}\myfill{grn}{1397}{801}{1401}{805}
\draw[cn] (1372,792)--(1378,792)--(1378,822)--(1372,822) (1378,802)--(1383,802) (1378,812)--(1403,812) (1378,818)--(1403,818) (1423,815)--(1427,805);
\mystk{vblue}{1439}{758}{1445}{766}
\myfill{white}{1439}{766}{1462}{779}\myfill{white}{1439}{789}{1454}{803}
\mystk{vblue}{1440}{804}{1453}{889}\mystk{vblue}{1460}{810}{1468}{844}
\myfill{grl}{1455}{783}{1460}{790}
\mydoc{1467}{783}{1479}{797}
\mystk{vblue}{1480}{797}{1487}{812}
\draw[cn] (1479,790)--(1487,790) (1487,790)--(1483,797);
\mydoc{1487}{783}{1502}{865}
\mystk{vblue}{1503}{783}{1526}{891}\mystk{vblue}{1529}{783}{1553}{884}

% ================= New User frame
\myfill{blul}{1578}{750}{1779}{900}
\mydoc{1583}{757}{1594}{765}\mydoc{1583}{767}{1594}{773}\mydoc{1583}{776}{1596}{783}\mydoc{1583}{785}{1597}{790}\mydoc{1583}{795}{1596}{800}\mydoc{1590}{840}{1602}{848}
\draw[cn] (1588,770)--(1588,830) (1592,790)--(1592,830) (1594,760)--(1616,760)--(1616,773) (1588,830)--(1600,830) (1592,827)--(1700,827) (1616,788)--(1649,788) (1602,844)--(1608,844)--(1608,835)--(1619,835) (1633,790)--(1649,790) (1616,804)--(1616,827);
\mydoc{1603}{773}{1616}{804}\mydoc{1619}{835}{1633}{910}\mydoc{1622}{772}{1632}{790}
\draw[cn] (1661,765) .. controls (1670,757) and (1690,757) .. (1699,765);
\draw[txl] (1667,756)--(1685,756) (1670,759)--(1682,759);
\mydoc{1649}{767}{1664}{888}\mydoc{1684}{767}{1699}{885}
\draw[line width=0.6pt,blu] (1667,782)--(1677,782);
\mydoc{1702}{768}{1713}{780}
\draw[cn] (1713,774)--(1717,774)--(1717,786)--(1722,786);
\mydoc{1722}{768}{1736}{805}\mydoc{1741}{768}{1756}{845}
\draw[txl] (1722,765)--(1730,765) (1742,763)--(1750,763);
\draw[line width=0.5pt,blu] (1742,766)--(1760,766);

% ================= labels (on top)
\node[lbl, fill=cpg, minimum width=232pt] (lcp) at (132,112) {Current problems ...};
\node[lbl, fill=white, minimum width=90pt] (lscope) at (315,112) {Scope};
\node[lbl, fill=white, minimum width=172pt] (lbrain) at (536,112) {Brainstorming};
\node[lbl, fill=white, minimum width=186pt] (le2e) at (978,112) {E2E experience};
\node[lbl, fill=lblg, minimum width=171pt] (lext) at (1178.5,150) {External tools};
\node[lbl, fill=lblg, minimum width=92pt] (lduxy) at (1398,150) {DUXY};
\node[lbl, fill=lblg, minimum width=201pt] (lglean) at (1687.5,150) {Glean / GrabGPT};
\node[lbl, fill=imp, minimum width=297pt] (limpact) at (2295.5,153.5) {Impact estimation - Fina...};
\node[lbl, fill=lblp, minimum width=111pt] (ldesign) at (1643.5,306) {Designs};
\node[lbl, fill=white, minimum width=125pt] (ltech) at (1778.5,306) {Technic...};
\node[lbl, fill=grl, minimum width=88pt, minimum height=48pt] (lwha) at (578,266) {Wha...};
\node[lbl, fill=bg, minimum width=135pt, minimum height=48pt] (lphrase) at (1475.5,361) {Phrase - ...};
\node[lbl, fill=white, minimum width=121pt, minimum height=48pt] (lwhy) at (116.5,425) {Why ne...};
\node[lbl, fill=white, minimum width=93pt, minimum height=47pt] (ltest1) at (622.5,483.5) {Test ...};
\node[lbl, fill=white, minimum width=88pt, minimum height=46pt] (ltest2) at (595,611) {Test...};
\node[lbl, fill=white, minimum width=173pt, minimum height=48pt] (lheat) at (311.5,686) {Testing heat...};
\node[lbl, fill=blul, minimum width=138pt, minimum height=48pt] (lvideo) at (1403,715) {Video Test};
\node[lbl, fill=blul, minimum width=188pt, minimum height=48pt] (lnew) at (1673,715) {New User Gra...};
\end{tikzpicture}
\end{document}
